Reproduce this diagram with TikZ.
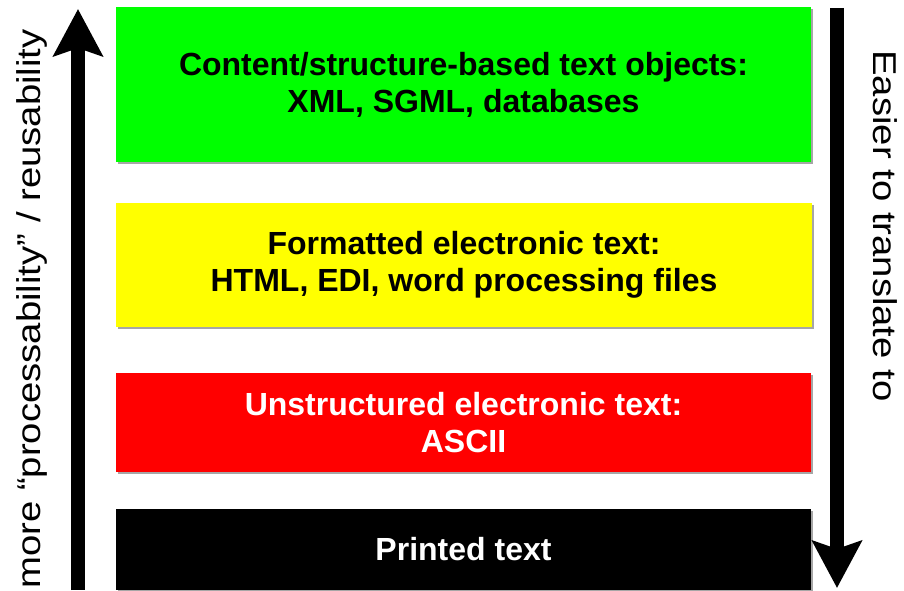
\documentclass[tikz,border=0pt]{standalone}
\usepackage{fontspec}
\setmainfont{Liberation Sans}
\usetikzlibrary{arrows.meta,shadows}
\definecolor{boxgreen}{RGB}{0,255,0}
\definecolor{boxyellow}{RGB}{255,255,0}
\definecolor{boxred}{RGB}{255,0,0}
\tikzset{
  layer/.style={rectangle, inner sep=0pt, minimum width=695pt, align=center,
    font=\fontsize{32}{37}\selectfont\bfseries,
    drop shadow={shadow xshift=2pt, shadow yshift=-2pt, fill=black, opacity=0.35}},
  sidetext/.style={inner sep=0pt, anchor=base, font=\fontsize{33}{38}\selectfont},
  bigarrow/.style={line width=14pt, -{Stealth[length=47pt, width=49pt, inset=8pt]}}
}
\begin{document}
\begin{tikzpicture}[x=1pt, y=1pt]
\useasboundingbox (0,0) rectangle (904,590);
\fill[white] (0,0) rectangle (904,590);
% boxes
\node[layer, fill=boxgreen, minimum height=155pt] (green) at (463.5,505.5)
  {Content/structure-based text objects:\\XML, SGML, databases};
\node[layer, fill=boxyellow, minimum width=696pt, minimum height=124pt] (yellow) at (464,325)
  {Formatted electronic text:\\HTML, EDI, word processing files};
\node[layer, fill=boxred, text=white, minimum height=99pt] (red) at (463.5,167.5)
  {Unstructured electronic text:\\ASCII};
\node[layer, fill=black, text=white, minimum height=81pt, drop shadow={opacity=0}] (black) at (463.5,40.5)
  {Printed text};
% arrows
\coordinate (upstart) at (78,0);
\coordinate (upend) at (78,581);
\coordinate (downstart) at (837,582);
\coordinate (downend) at (837,2);
\draw[bigarrow] (upstart) -- (upend);
\draw[bigarrow] (downstart) -- (downend);
% side texts
\node[sidetext, rotate=90] (lefttext) at (40,281)
  {\scalebox{1.16}[1]{more “processability” / reusability}};
\node[sidetext, rotate=-90] (righttext) at (873,364)
  {\scalebox{1.16}[1]{Easier to translate to}};
\end{tikzpicture}
\end{document}
